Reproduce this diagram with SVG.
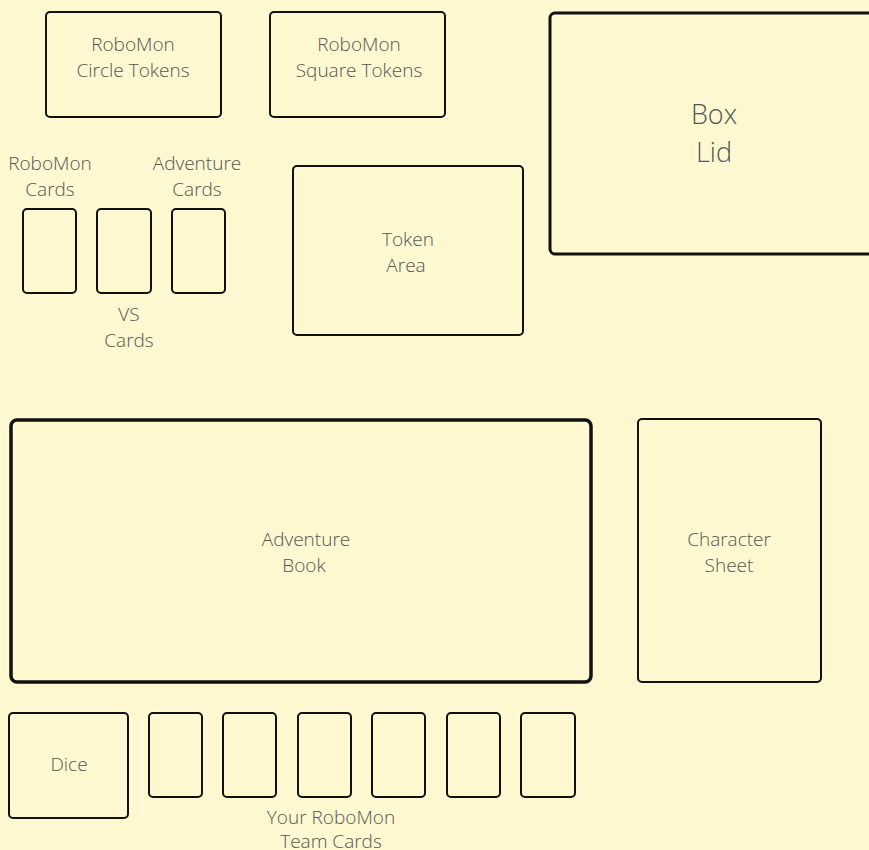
<svg xmlns="http://www.w3.org/2000/svg" width="869" height="850" viewBox="0 0 869 850">
<style>
.n{fill:#fff8d0;stroke:#111;stroke-width:2}
text{font-family:"Open Sans","DejaVu Sans",sans-serif;font-size:19px;fill:#555;text-anchor:middle;font-weight:300}
.big{font-size:27px}
</style>
<rect width="869" height="850" fill="#fff8d0"/>
<g id="circle-tokens"><rect class="n" x="46" y="12" width="175" height="105" rx="4"/><text x="133" y="51">RoboMon</text><text x="133" y="77">Circle Tokens</text></g>
<g id="square-tokens"><rect class="n" x="270" y="12" width="175" height="105" rx="4"/><text x="359" y="51">RoboMon</text><text x="359" y="77">Square Tokens</text></g>
<g id="box-lid"><rect class="n" x="550" y="13" width="330" height="241" rx="5" style="stroke-width:3"/><text class="big" x="714" y="124">Box</text><text class="big" x="714" y="162">Lid</text></g>
<g id="robomon-cards"><text x="50" y="170">RoboMon</text><text x="50" y="196">Cards</text><rect class="n" x="23" y="209" width="53" height="84" rx="4"/></g>
<g id="vs-cards"><rect class="n" x="97" y="209" width="54" height="84" rx="4"/><text x="129" y="321">VS</text><text x="129" y="347">Cards</text></g>
<g id="adventure-cards"><text x="197" y="170">Adventure</text><text x="197" y="196">Cards</text><rect class="n" x="172" y="209" width="53" height="84" rx="4"/></g>
<g id="token-area"><rect class="n" x="293" y="166" width="230" height="169" rx="4"/><text x="408" y="246">Token</text><text x="406" y="272">Area</text></g>
<g id="adventure-book"><rect class="n" x="11" y="420" width="580" height="262" rx="6" style="stroke-width:3.5"/><text x="306" y="546">Adventure</text><text x="304" y="572">Book</text></g>
<g id="character-sheet"><rect class="n" x="638" y="419" width="183" height="263" rx="4"/><text x="729" y="546">Character</text><text x="729" y="572">Sheet</text></g>
<g id="dice"><rect class="n" x="9" y="713" width="119" height="105" rx="4"/><text x="69" y="771">Dice</text></g>
<g id="team-cards">
<rect class="n" x="149" y="713" width="53" height="84" rx="4"/>
<rect class="n" x="223" y="713" width="53" height="84" rx="4"/>
<rect class="n" x="298" y="713" width="53" height="84" rx="4"/>
<rect class="n" x="372" y="713" width="53" height="84" rx="4"/>
<rect class="n" x="447" y="713" width="53" height="84" rx="4"/>
<rect class="n" x="521" y="713" width="54" height="84" rx="4"/>
<text x="331" y="824">Your RoboMon</text><text x="331" y="848">Team Cards</text>
</g>
<g id="connectors"/>
</svg>
